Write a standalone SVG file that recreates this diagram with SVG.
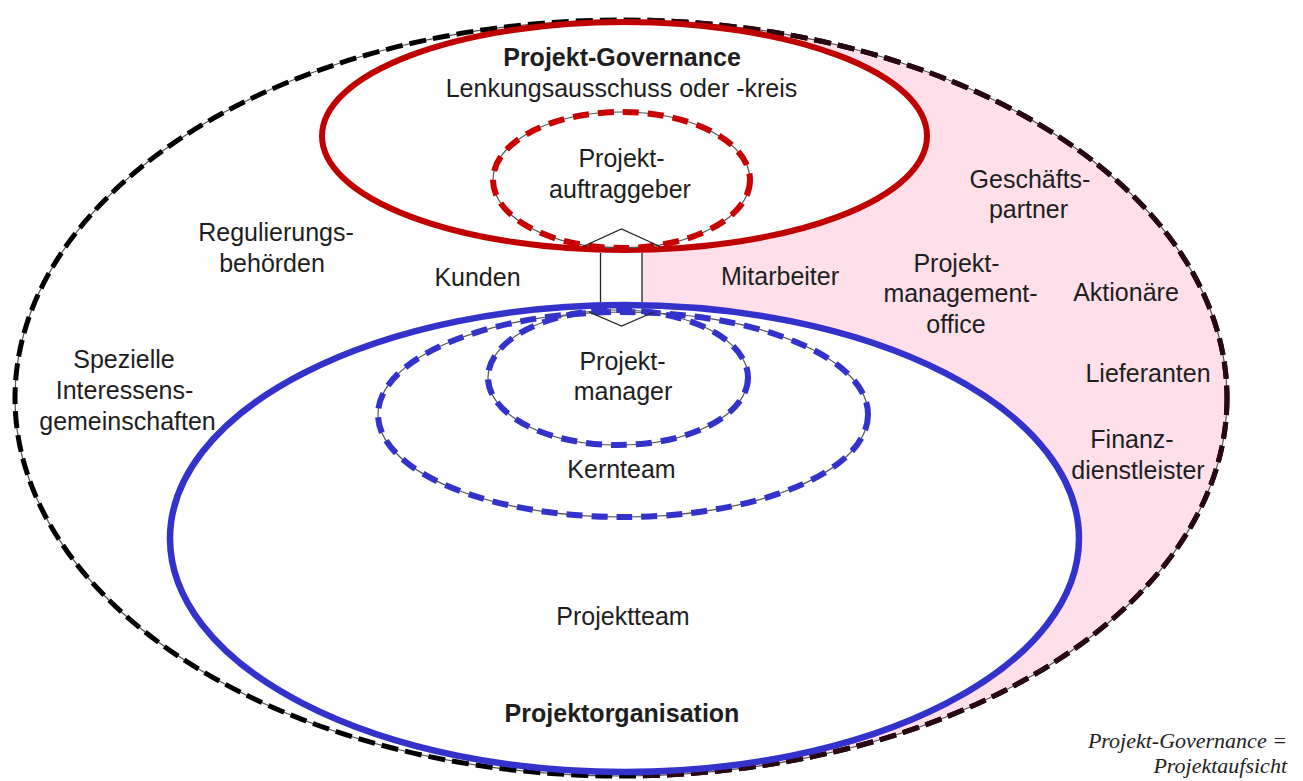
<svg xmlns="http://www.w3.org/2000/svg" width="1303" height="781" viewBox="0 0 1303 781">
<style>
.lbl{font-family:"Liberation Sans",Arial,sans-serif;font-size:25px;fill:#1e1e1e;text-anchor:middle}
.b{font-weight:bold}
.note{font-family:"Liberation Serif","Times New Roman",serif;font-style:italic;font-size:22px;fill:#222;text-anchor:end}
.base{fill:none;stroke:#555;stroke-width:1.2}
.outer{fill:none;stroke:#000;stroke-width:5;stroke-dasharray:17 7}
.outerpink{fill:none;stroke:#2a0812;stroke-width:5;stroke-dasharray:17 7}
.red{fill:none;stroke:#c00000;stroke-width:6}
.redd{fill:none;stroke:#c80000;stroke-width:6;stroke-dasharray:16 9}
.blue{fill:none;stroke:#3333cc;stroke-width:6.5}
.blued{fill:none;stroke:#3333cc;stroke-width:6;stroke-dasharray:16 9}
.conn{fill:none;stroke:#222;stroke-width:1.3;stroke-linejoin:miter}
</style>
<defs>
<clipPath id="rightside"><rect x="642" y="0" width="661" height="781"/></clipPath>
</defs>
<rect x="0" y="0" width="1303" height="781" fill="#fff"/>

<g id="umfeld">
<path clip-path="url(#rightside)" fill="#ffdfe9" fill-rule="evenodd" d="M15,398 a606,378 0 1,0 1212,0 a606,378 0 1,0 -1212,0 Z M322,136 a302.5,114 0 1,0 605,0 a302.5,114 0 1,0 -605,0 Z M170,538.5 a454.5,233.5 0 1,0 909,0 a454.5,233.5 0 1,0 -909,0 Z"/>
<ellipse class="base" cx="621" cy="398" rx="606" ry="378"/>
<ellipse class="outer" cx="621" cy="398" rx="606" ry="378"/>
<ellipse class="outerpink" clip-path="url(#rightside)" cx="621" cy="398" rx="606" ry="378"/>
</g>

<g id="projekt-governance">
<ellipse class="red" cx="624.5" cy="136" rx="302.5" ry="114"/>
</g>

<g id="projektauftraggeber">
<ellipse class="base" cx="621.5" cy="180" rx="128.5" ry="68"/>
<ellipse class="redd" cx="621.5" cy="180" rx="128.5" ry="68"/>
</g>

<g id="projektorganisation">
<ellipse class="blue" cx="624.5" cy="538.5" rx="454.5" ry="233.5"/>
</g>

<g id="kernteam">
<ellipse class="base" cx="623" cy="414.5" rx="245" ry="102.5"/>
<ellipse class="blued" cx="623" cy="414.5" rx="245" ry="102.5"/>
</g>

<g id="projektmanager">
<ellipse class="base" cx="618" cy="377.5" rx="130" ry="67.5"/>
<ellipse class="blued" cx="618" cy="377.5" rx="130" ry="67.5"/>
</g>

<g id="connectors">
<path class="conn" d="M583,246.5 L621.5,229 L660,246.5"/>
<path class="conn" d="M600.5,253 V302 M642,253 V302"/>
<path class="conn" d="M589,312 L621.5,326 L654,312"/>
</g>

<g id="labels">
<text class="lbl b" x="622" y="66">Projekt-Governance</text>
<text class="lbl" x="621.5" y="97">Lenkungsausschuss oder -kreis</text>
<text class="lbl" x="621.5" y="167">Projekt-</text>
<text class="lbl" x="620" y="198">auftraggeber</text>
<text class="lbl" x="276" y="241">Regulierungs-</text>
<text class="lbl" x="272" y="272">behörden</text>
<text class="lbl" x="477.5" y="286">Kunden</text>
<text class="lbl" x="780" y="285">Mitarbeiter</text>
<text class="lbl" x="956.5" y="272">Projekt-</text>
<text class="lbl" x="960.5" y="302">management-</text>
<text class="lbl" x="956" y="333">office</text>
<text class="lbl" x="1030" y="188">Geschäfts-</text>
<text class="lbl" x="1028.5" y="218">partner</text>
<text class="lbl" x="1126" y="301">Aktionäre</text>
<text class="lbl" x="1148" y="382">Lieferanten</text>
<text class="lbl" x="1132" y="448">Finanz-</text>
<text class="lbl" x="1138" y="479">dienstleister</text>
<text class="lbl" x="124" y="368">Spezielle</text>
<text class="lbl" x="124.5" y="399">Interessens-</text>
<text class="lbl" x="127.5" y="430">gemeinschaften</text>
<text class="lbl" x="622.5" y="370">Projekt-</text>
<text class="lbl" x="623" y="400">manager</text>
<text class="lbl" x="621.5" y="478">Kernteam</text>
<text class="lbl" x="623" y="625">Projektteam</text>
<text class="lbl b" x="622" y="722">Projektorganisation</text>
<text class="note" x="1287" y="748">Projekt-Governance =</text>
<text class="note" x="1287" y="773">Projektaufsicht</text>
</g>
</svg>
